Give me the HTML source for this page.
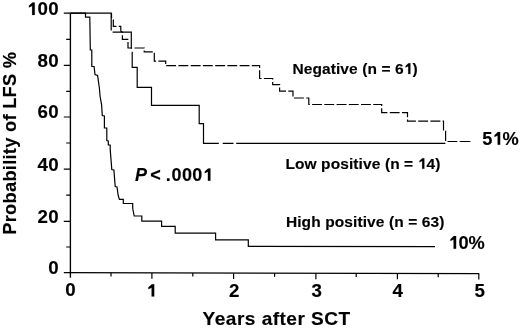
<!DOCTYPE html>
<html><head><meta charset="utf-8"><style>
html,body{margin:0;padding:0;background:#fff;width:520px;height:330px;overflow:hidden}
svg{display:block;filter:grayscale(1)}
text{font-family:"Liberation Sans",sans-serif;font-weight:bold;fill:#000;stroke:#000;stroke-width:0.15px}
.h1{fill:none;stroke:none}
</style></head><body>
<svg width="520" height="330" viewBox="0 0 520 330">
<g stroke="#000" stroke-width="1.2" fill="none" stroke-linecap="butt">
<!-- axes -->
<path stroke-width="1.35" d="M70.4 13.2 V277.8"/>
<path stroke-width="1.35" d="M63.8 272.6 L479.2 273.6"/>
<!-- y major ticks -->
<path d="M63.8 13.2H70.4M63.8 65.4H70.4M63.8 117H70.4M63.8 169.2H70.4M63.8 221.4H70.4"/>
<!-- y minor ticks -->
<path d="M66.2 39.4H70.4M66.2 91.3H70.4M66.2 143H70.4M66.2 195.2H70.4M66.2 247H70.4"/>
<!-- x major ticks -->
<path d="M151.9 273V278.8M233.6 273.2V279M315.9 273.4V279.2M397.4 273.5V279.2M478.8 273.6V279.4"/>
<!-- x minor ticks -->
<path d="M111 272.8V276.4M192.8 273V276.6M274.6 273.2V276.8M356.2 273.4V277M438.2 273.5V277.2"/>
</g>
<g stroke="#000" stroke-width="1.2" fill="none" stroke-linejoin="miter">
<!-- high positive -->
<polyline points="70.3,13.2 85.5,13.2 85.5,17.1 89.8,17.1 90.3,50 91.8,50 91.8,66.5 94.1,66.5 95,74.5 97.6,75.5 99.4,88.2 100.1,96.5 101.6,104.8 102.3,115.5 104.4,116 104.4,128 106.8,128 106.8,140.5 108.3,141 108.3,145 110.2,145 110.2,149.4 111.8,169.5 113.9,170 115.2,186.6 117,187 118.2,195.5 119.4,199.4 123.3,199.4 123.3,203.5 132.7,203.5 132.7,208.5 134.2,216 141.8,216 141.8,221.2 161.6,221.2 161.6,226.3 175.2,226.3 175.2,233.1 215.6,233.1 215.6,239.8 248.3,239.8 248.3,246.4 435,246.7"/>
<!-- low positive -->
<polyline points="70.3,13.2 111.2,13.2 111.2,30.4"/>
<polyline points="112.6,32.2 131.3,32.2 131.3,48.8"/>
<polyline points="132.2,51.8 132.2,67.4 137.2,67.4 137.2,87.4 151.5,87.4 151.5,105.4 199.2,105.4 199.2,123.6 203.5,123.6 203.5,143.4 218.8,143.4"/>
<path d="M222.7 143.4H233.5M236.2 143.4H445.4"/>
<!-- negative (dashed) -->
<path d="M111.5 13.2L111.5 17.5L112.0 18.2M113.0 19.6L113.3 20.0L113.3 26.3L116.5 26.3M118.8 26.3L120.8 26.3L120.8 31.2L122.4 32.0L122.4 32.8M122.4 35.2L122.4 39.3L128.0 39.3L128.0 39.6M128.0 42.0L128.0 48.0L132.1 48.0M134.5 48.0L144.2 48.0L144.2 48.2M144.2 50.6L144.2 51.9L152.8 51.9M154.3 52.8L154.3 61.2L156.1 61.2M158.4 61.2L165.7 61.2L165.7 63.9M166.2 65.7L176.1 65.7M178.4 65.7L188.3 65.7M190.7 65.7L200.6 65.7M202.9 65.7L212.8 65.7M215.2 65.7L225.1 65.7M227.4 65.7L237.2 65.7M239.6 65.7L249.5 65.7M251.8 65.7L259.6 65.7L259.6 67.9M259.6 70.3L259.6 78.5L261.6 78.5M263.9 78.5L272.7 78.5L272.7 79.6M272.7 82.0L272.7 84.6L279.6 84.6L279.6 85.1M279.6 87.5L279.6 91.2L286.0 91.2M288.3 91.2L293.0 91.2L293.0 96.6M293.9 98.0L303.9 98.0M306.2 98.0L308.8 98.0L308.8 104.5L309.8 104.5M312.1 104.5L322.0 104.5M324.3 104.5L334.2 104.5M336.6 104.5L346.5 104.5M348.8 104.5L358.7 104.5M361.0 104.5L370.9 104.5M373.2 104.5L381.7 104.5L381.7 106.0M381.7 108.3L381.7 112.7L387.4 112.7M389.8 112.7L399.6 112.7M401.9 112.7L407.5 112.7L407.5 117.2M407.5 119.6L407.5 121.2L415.9 121.2M418.2 121.2L428.1 121.2M430.4 121.2L440.4 121.2M442.6 121.2L443.5 121.2L443.5 130.5M445.5 131.0L445.6 131.0L445.6 141.1M447.5 141.5L457.4 141.5M459.7 141.5L470.4 141.5"/>
</g>
<text transform="translate(58.9,15) scale(1.04,1)" font-size="18" letter-spacing="0.3" text-anchor="end"><tspan class="h1">1</tspan>00</text>
<text transform="translate(58.9,67.2) scale(1.04,1)" font-size="18" letter-spacing="0.3" text-anchor="end">80</text>
<text transform="translate(58.9,118.4) scale(1.04,1)" font-size="18" letter-spacing="0.3" text-anchor="end">60</text>
<text transform="translate(58.9,170.8) scale(1.04,1)" font-size="18" letter-spacing="0.3" text-anchor="end">40</text>
<text transform="translate(58.9,223.2) scale(1.04,1)" font-size="18" letter-spacing="0.3" text-anchor="end">20</text>
<text transform="translate(58.9,274.2) scale(1.04,1)" font-size="18" letter-spacing="0.3" text-anchor="end">0</text>
<text transform="translate(70.5,296.4) scale(1.04,1)" font-size="18" text-anchor="middle">0</text>
<text transform="translate(151.4,296.6) scale(1.04,1)" font-size="18" text-anchor="middle"><tspan class="h1">1</tspan></text>
<text transform="translate(234.3,297) scale(1.04,1)" font-size="18" text-anchor="middle">2</text>
<text transform="translate(316.6,297.3) scale(1.04,1)" font-size="18" text-anchor="middle">3</text>
<text transform="translate(397.8,297.3) scale(1.04,1)" font-size="18" text-anchor="middle">4</text>
<text transform="translate(479.6,297.4) scale(1.04,1)" font-size="18" text-anchor="middle">5</text>
<text transform="translate(202.6,324.7) scale(1.06,1)" font-size="18" letter-spacing="0.45">Years after SCT</text>
<text transform="translate(16,234.8) rotate(-90) scale(1.03,1)" font-size="17.8" letter-spacing="0.25">Probability of LFS %</text>
<text transform="translate(292.4,73.9)" font-size="15.5" letter-spacing="0.1">Negative (n = 6<tspan class="h1">1</tspan>)</text>
<text transform="translate(285.4,168.8)" font-size="15.5" letter-spacing="0.1">Low positive (n = <tspan class="h1">1</tspan>4)</text>
<text transform="translate(285.9,226.7)" font-size="15.5" letter-spacing="0.1">High positive (n = 63)</text>
<text transform="translate(482.2,144.8) scale(0.98,1)" font-size="18.6">5<tspan class="h1">1</tspan>%</text>
<text transform="translate(448.3,248.8) scale(0.98,1)" font-size="18.6"><tspan class="h1">1</tspan>0%</text>
<text transform="translate(135,180.8)" font-size="18" font-style="italic">P</text>
<text transform="translate(150.3,180.8)" font-size="18">&lt;</text>
<text transform="translate(165.8,180.8)" font-size="18">.</text>
<text transform="translate(171.6,180.8)" font-size="18" letter-spacing="0.35">000<tspan class="h1">1</tspan></text>
<g fill="#000" stroke="#000" stroke-width="0.15">
<path vector-effect="non-scaling-stroke" transform="translate(58.9,15) scale(1.04,1) translate(-30.95,0.00) scale(0.008789,-0.008789)" d="M880 0H592V1020L240 850V1060L620 1409H880Z"/>
<path vector-effect="non-scaling-stroke" transform="translate(151.4,296.6) scale(1.04,1) translate(-5.01,0.00) scale(0.008789,-0.008789)" d="M880 0H592V1020L240 850V1060L620 1409H880Z"/>
<path vector-effect="non-scaling-stroke" transform="translate(292.4,73.9) translate(111.34,0.00) scale(0.007568,-0.007568)" d="M880 0H592V1020L240 850V1060L620 1409H880Z"/>
<path vector-effect="non-scaling-stroke" transform="translate(285.4,168.8) translate(132.28,0.00) scale(0.007568,-0.007568)" d="M880 0H592V1020L240 850V1060L620 1409H880Z"/>
<path vector-effect="non-scaling-stroke" transform="translate(482.2,144.8) scale(0.98,1) translate(10.35,0.00) scale(0.009082,-0.009082)" d="M880 0H592V1020L240 850V1060L620 1409H880Z"/>
<path vector-effect="non-scaling-stroke" transform="translate(448.3,248.8) scale(0.98,1) translate(0.00,0.00) scale(0.009082,-0.009082)" d="M880 0H592V1020L240 850V1060L620 1409H880Z"/>
<path vector-effect="non-scaling-stroke" transform="translate(171.6,180.8) translate(31.09,0.00) scale(0.008789,-0.008789)" d="M880 0H592V1020L240 850V1060L620 1409H880Z"/>
</g>
</svg>
</body></html>
